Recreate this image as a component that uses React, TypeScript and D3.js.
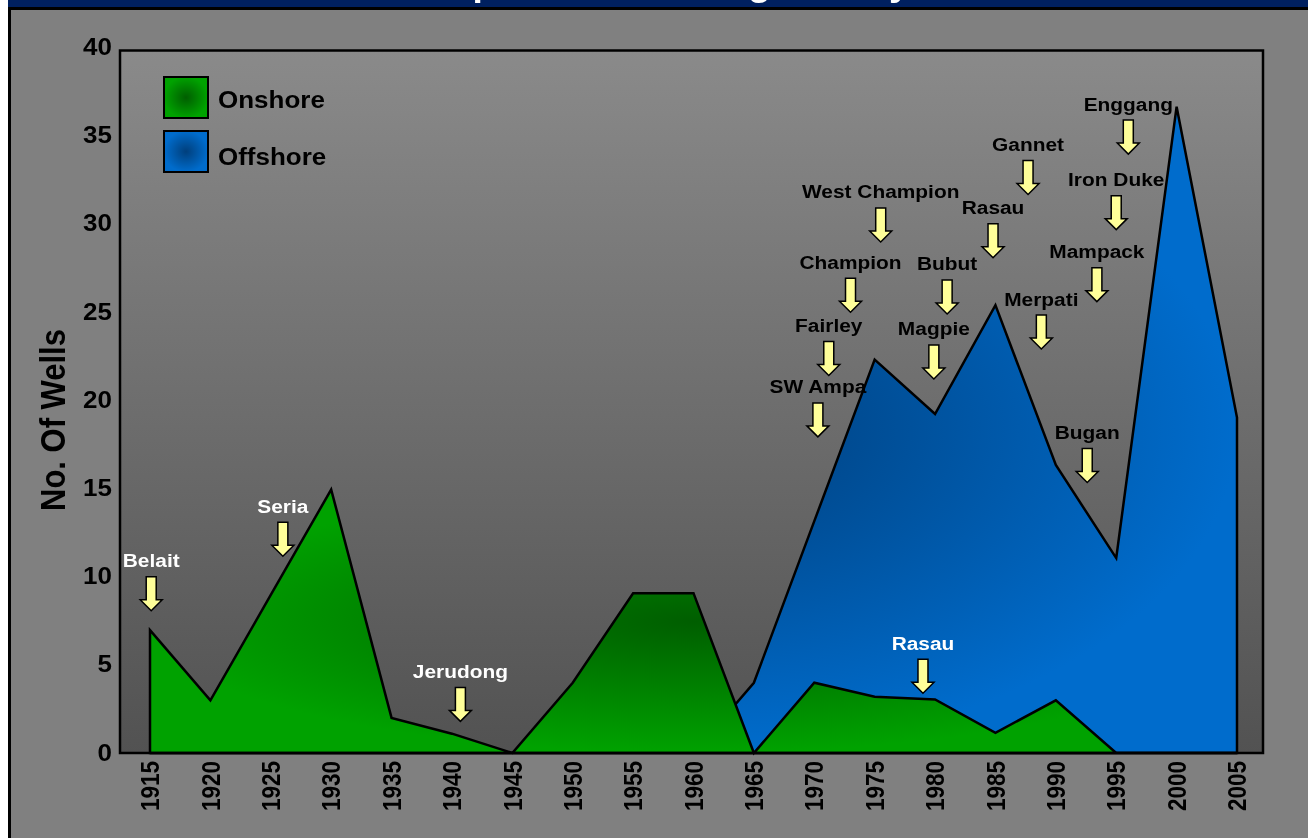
import React from 'react';
import * as d3 from 'd3';

// wells drilled per 5-year period
const years = [1915, 1920, 1925, 1930, 1935, 1940, 1945, 1950, 1955, 1960, 1965, 1970, 1975, 1980, 1985, 1990, 1995, 2000, 2005];
const onshore = [7, 3, 9, 15, 2, 1.1, 0, 4, 9.1, 9.1, 0, 4, 3.2, 3.05, 1.15, 3, 0, 0, 0];
const offshore = [0, 0, 0, 0, 0, 0, 0, 0, 0, 0, 4, 13.2, 22.4, 19.3, 25.5, 16.4, 11.1, 36.8, 19.1];
const yTicks = [0, 5, 10, 15, 20, 25, 30, 35, 40];

// field discoveries: arrow tip in data units
const fieldNames = ['Belait', 'Seria', 'Jerudong', 'Rasau', 'SW Ampa', 'Fairley', 'Champion', 'West Champion', 'Bubut', 'Magpie', 'Rasau', 'Gannet', 'Merpati', 'Iron Duke', 'Mampack', 'Bugan', 'Enggang'];
const fieldYears = [1915.1, 1926.0, 1940.7, 1979.0, 1970.3, 1971.2, 1973.0, 1975.5, 1981.0, 1979.9, 1984.8, 1987.7, 1988.8, 1995.0, 1993.4, 1992.6, 1996.0];
const fieldWells = [8.1, 11.2, 1.8, 3.4, 18.0, 21.5, 25.1, 29.1, 25.0, 21.3, 28.2, 31.8, 23.0, 29.8, 25.7, 15.4, 34.1];
const fieldOnshore = [true, true, true, true, false, false, false, false, false, false, false, false, false, false, false, false, false];

const W = 1308;
const H = 838;
const plot = { left: 120, right: 1263, top: 50.5, bottom: 753 };
const SX = 1.13; // the original picture is stretched sideways
const font = '"Liberation Sans", Arial, sans-serif';

const x = d3.scaleLinear().domain([1915, 2005]).range([plot.left + 30, plot.right - 26]);
const y = d3.scaleLinear().domain([0, 40]).range([plot.bottom, plot.top]);

const areaOf = (vals: number[]) =>
  d3.area<number>()
    .x((_, i) => x(years[i]))
    .y0(y(0))
    .y1(d => y(d))(vals) as string;

const arrowPath = 'M-5,-34 L5,-34 L5,-11 L11,-11 L0,0 L-11,-11 L-5,-11 Z';

export default function App() {
  return (
    <svg width={W} height={H} style={{ position: 'fixed', left: 0, top: 0 }} fontFamily={font} fontWeight="bold">
      <defs>
        <linearGradient id="plotBg" x1="0" y1="0" x2="0" y2="1">
          <stop offset="0" stopColor="#8a8a8a" />
          <stop offset="1" stopColor="#525252" />
        </linearGradient>
        <radialGradient id="green">
          <stop offset="0" stopColor="#005e00" />
          <stop offset="1" stopColor="#00a200" />
        </radialGradient>
        <radialGradient id="blue">
          <stop offset="0" stopColor="#003f7c" />
          <stop offset="1" stopColor="#006ccc" />
        </radialGradient>
      </defs>

      <rect x={0} y={0} width={W} height={H} fill="#fff" />
      <rect x={9.5} y={8.5} width={W + 20} height={H + 20} fill="#808080" stroke="#000" strokeWidth={3} />
      <rect x={8} y={0} width={W} height={7} fill="#002060" />
      <text transform={`translate(427,-4) scale(${SX},1)`} fontSize={33} fill="#fff">Exploration Drilling History</text>

      <rect x={plot.left} y={plot.top} width={plot.right - plot.left} height={plot.bottom - plot.top} fill="url(#plotBg)" />
      <path d={areaOf(offshore)} fill="url(#blue)" stroke="#000" strokeWidth={2.5} strokeLinejoin="miter" />
      <path d={areaOf(onshore)} fill="url(#green)" stroke="#000" strokeWidth={2.5} strokeLinejoin="miter" />
      <rect x={plot.left} y={plot.top} width={plot.right - plot.left} height={plot.bottom - plot.top} fill="none" stroke="#000" strokeWidth={2.5} />

      {yTicks.map(t => (
        <text key={t} transform={`translate(112,${y(t) + 7.5 - (t / 40) * 3}) scale(${SX},1)`} fontSize={23} textAnchor="end" fill="#000">{t}</text>
      ))}
      {years.map(yr => (
        <text key={yr} transform={`translate(${x(yr)},761) scale(${SX},1) rotate(-90)`} fontSize={22.5} textAnchor="end" dy="0.36em" fill="#000">{yr}</text>
      ))}
      <text transform={`translate(52,420) scale(${SX},1) rotate(-90)`} fontSize={31} textAnchor="middle" dy="0.36em" fill="#000">No. Of Wells</text>

      {fieldNames.map((name, i) => {
        const ax = x(fieldYears[i]);
        const ay = y(fieldWells[i]);
        return (
          <g key={i}>
            <path d={arrowPath} transform={`translate(${ax},${ay})`} fill="#ffff99" stroke="#000" strokeWidth={1.5} />
            <text transform={`translate(${ax},${ay - 43.5}) scale(${SX},1)`} fontSize={18.5} textAnchor="middle" fill={fieldOnshore[i] ? '#fff' : '#000'}>{name}</text>
          </g>
        );
      })}

      <g>
        <rect x={164} y={77} width={44} height={41} fill="url(#green)" stroke="#000" strokeWidth={2} />
        <text transform={`translate(218,108) scale(${SX},1)`} fontSize={23} fill="#000">Onshore</text>
        <rect x={164} y={131} width={44} height={41} fill="url(#blue)" stroke="#000" strokeWidth={2} />
        <text transform={`translate(218,165) scale(${SX},1)`} fontSize={23} fill="#000">Offshore</text>
      </g>
    </svg>
  );
}
